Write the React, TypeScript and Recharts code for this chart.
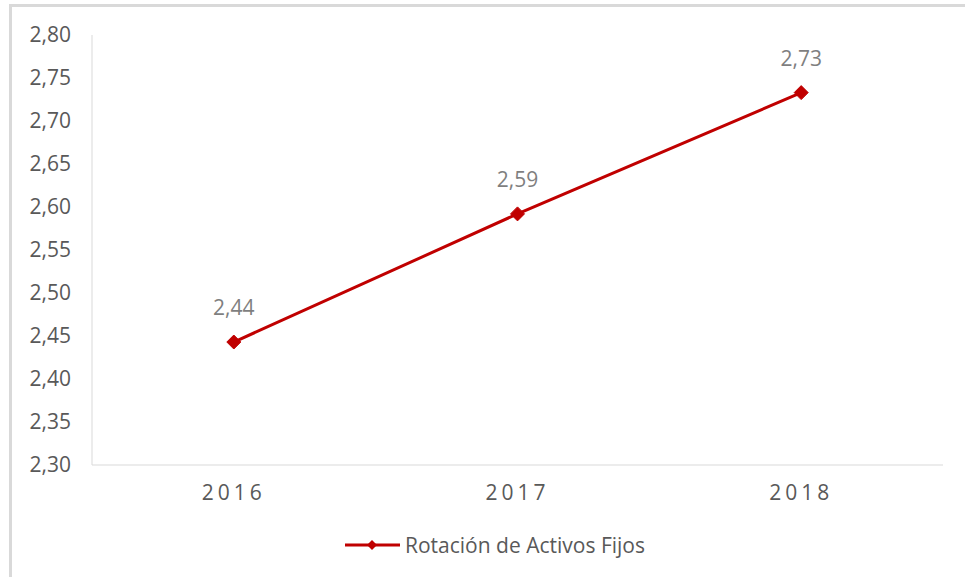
import { LabelList, Legend, Line, LineChart, XAxis, YAxis } from 'recharts'

const YEARS = ['2016', '2017', '2018']
const ROTACION = [2.443, 2.592, 2.733]
const Y_TICKS = [2.3, 2.35, 2.4, 2.45, 2.5, 2.55, 2.6, 2.65, 2.7, 2.75, 2.8]
const SERIES_NAME = 'Rotación de Activos Fijos'

const RED = '#C00000'
const FONT = '"Open Sans", "Liberation Sans", sans-serif'

const data = YEARS.map((year, i) => ({ year, value: ROTACION[i] }))

const fmt = (v: number) => v.toFixed(2).replace('.', ',')

function Diamond({ cx, cy, r }: { cx?: number; cy?: number; r: number }) {
  if (cx == null || cy == null) return null
  return (
    <polygon
      points={`${cx},${cy - r} ${cx + r},${cy} ${cx},${cy + r} ${cx - r},${cy}`}
      fill={RED}
      stroke={RED}
    />
  )
}

function LegendContent() {
  return (
    <div style={{ display: 'flex', alignItems: 'center', paddingLeft: 345, height: 36 }}>
      <svg width={56} height={16}>
        <line x1={0} y1={8} x2={55} y2={8} stroke={RED} strokeWidth={3} />
        <polygon points="27,3 32,8 27,13 22,8" fill={RED} />
      </svg>
      <span style={{ marginLeft: 4, color: '#595959', fontSize: 21, fontFamily: FONT }}>
        {SERIES_NAME}
      </span>
    </div>
  )
}

export default function App() {
  return (
    <div
      style={{
        position: 'absolute',
        left: 0,
        top: 0,
        width: 965,
        height: 577,
        overflow: 'hidden',
        background: '#fff',
      }}
    >
      <div
        style={{
          position: 'absolute',
          left: 9,
          top: 4,
          width: 1000,
          height: 1000,
          border: '3px solid #d9d9d9',
        }}
      />
      <div style={{ position: 'absolute', left: 0, top: 0 }}>
        <LineChart
          width={965}
          height={577}
          data={data}
          margin={{ top: 35, right: 22, left: 0, bottom: 14 }}
          style={{ fontFamily: FONT }}
        >
          <XAxis
            dataKey="year"
            height={62}
            padding={{ left: 141.8, right: 141.8 }}
            axisLine={{ stroke: '#d9d9d9', strokeWidth: 1 }}
            tickLine={false}
            tickSize={0}
            tickMargin={20}
            tick={{ fill: '#595959', fontSize: 21, letterSpacing: 4 }}
          />
          <YAxis
            width={92}
            domain={[2.3, 2.8]}
            ticks={Y_TICKS}
            tickFormatter={fmt}
            axisLine={{ stroke: '#d9d9d9', strokeWidth: 1 }}
            tickLine={false}
            tickSize={0}
            tickMargin={21}
            tick={{ fill: '#595959', fontSize: 21 }}
          />
          <Legend verticalAlign="bottom" height={36} wrapperStyle={{ left: 0, width: 965 }} content={<LegendContent />} />
          <Line
            dataKey="value"
            name={SERIES_NAME}
            stroke={RED}
            strokeWidth={3}
            isAnimationActive={false}
            activeDot={false}
            dot={(p: any) => <Diamond key={p.key ?? p.index} cx={p.cx} cy={p.cy} r={7} />}
          >
            <LabelList
              dataKey="value"
              position="top"
              offset={27}
              formatter={(v: any) => fmt(Number(v))}
              style={{ fill: '#7f7f7f', fontSize: 21 }}
            />
          </Line>
        </LineChart>
      </div>
    </div>
  )
}
